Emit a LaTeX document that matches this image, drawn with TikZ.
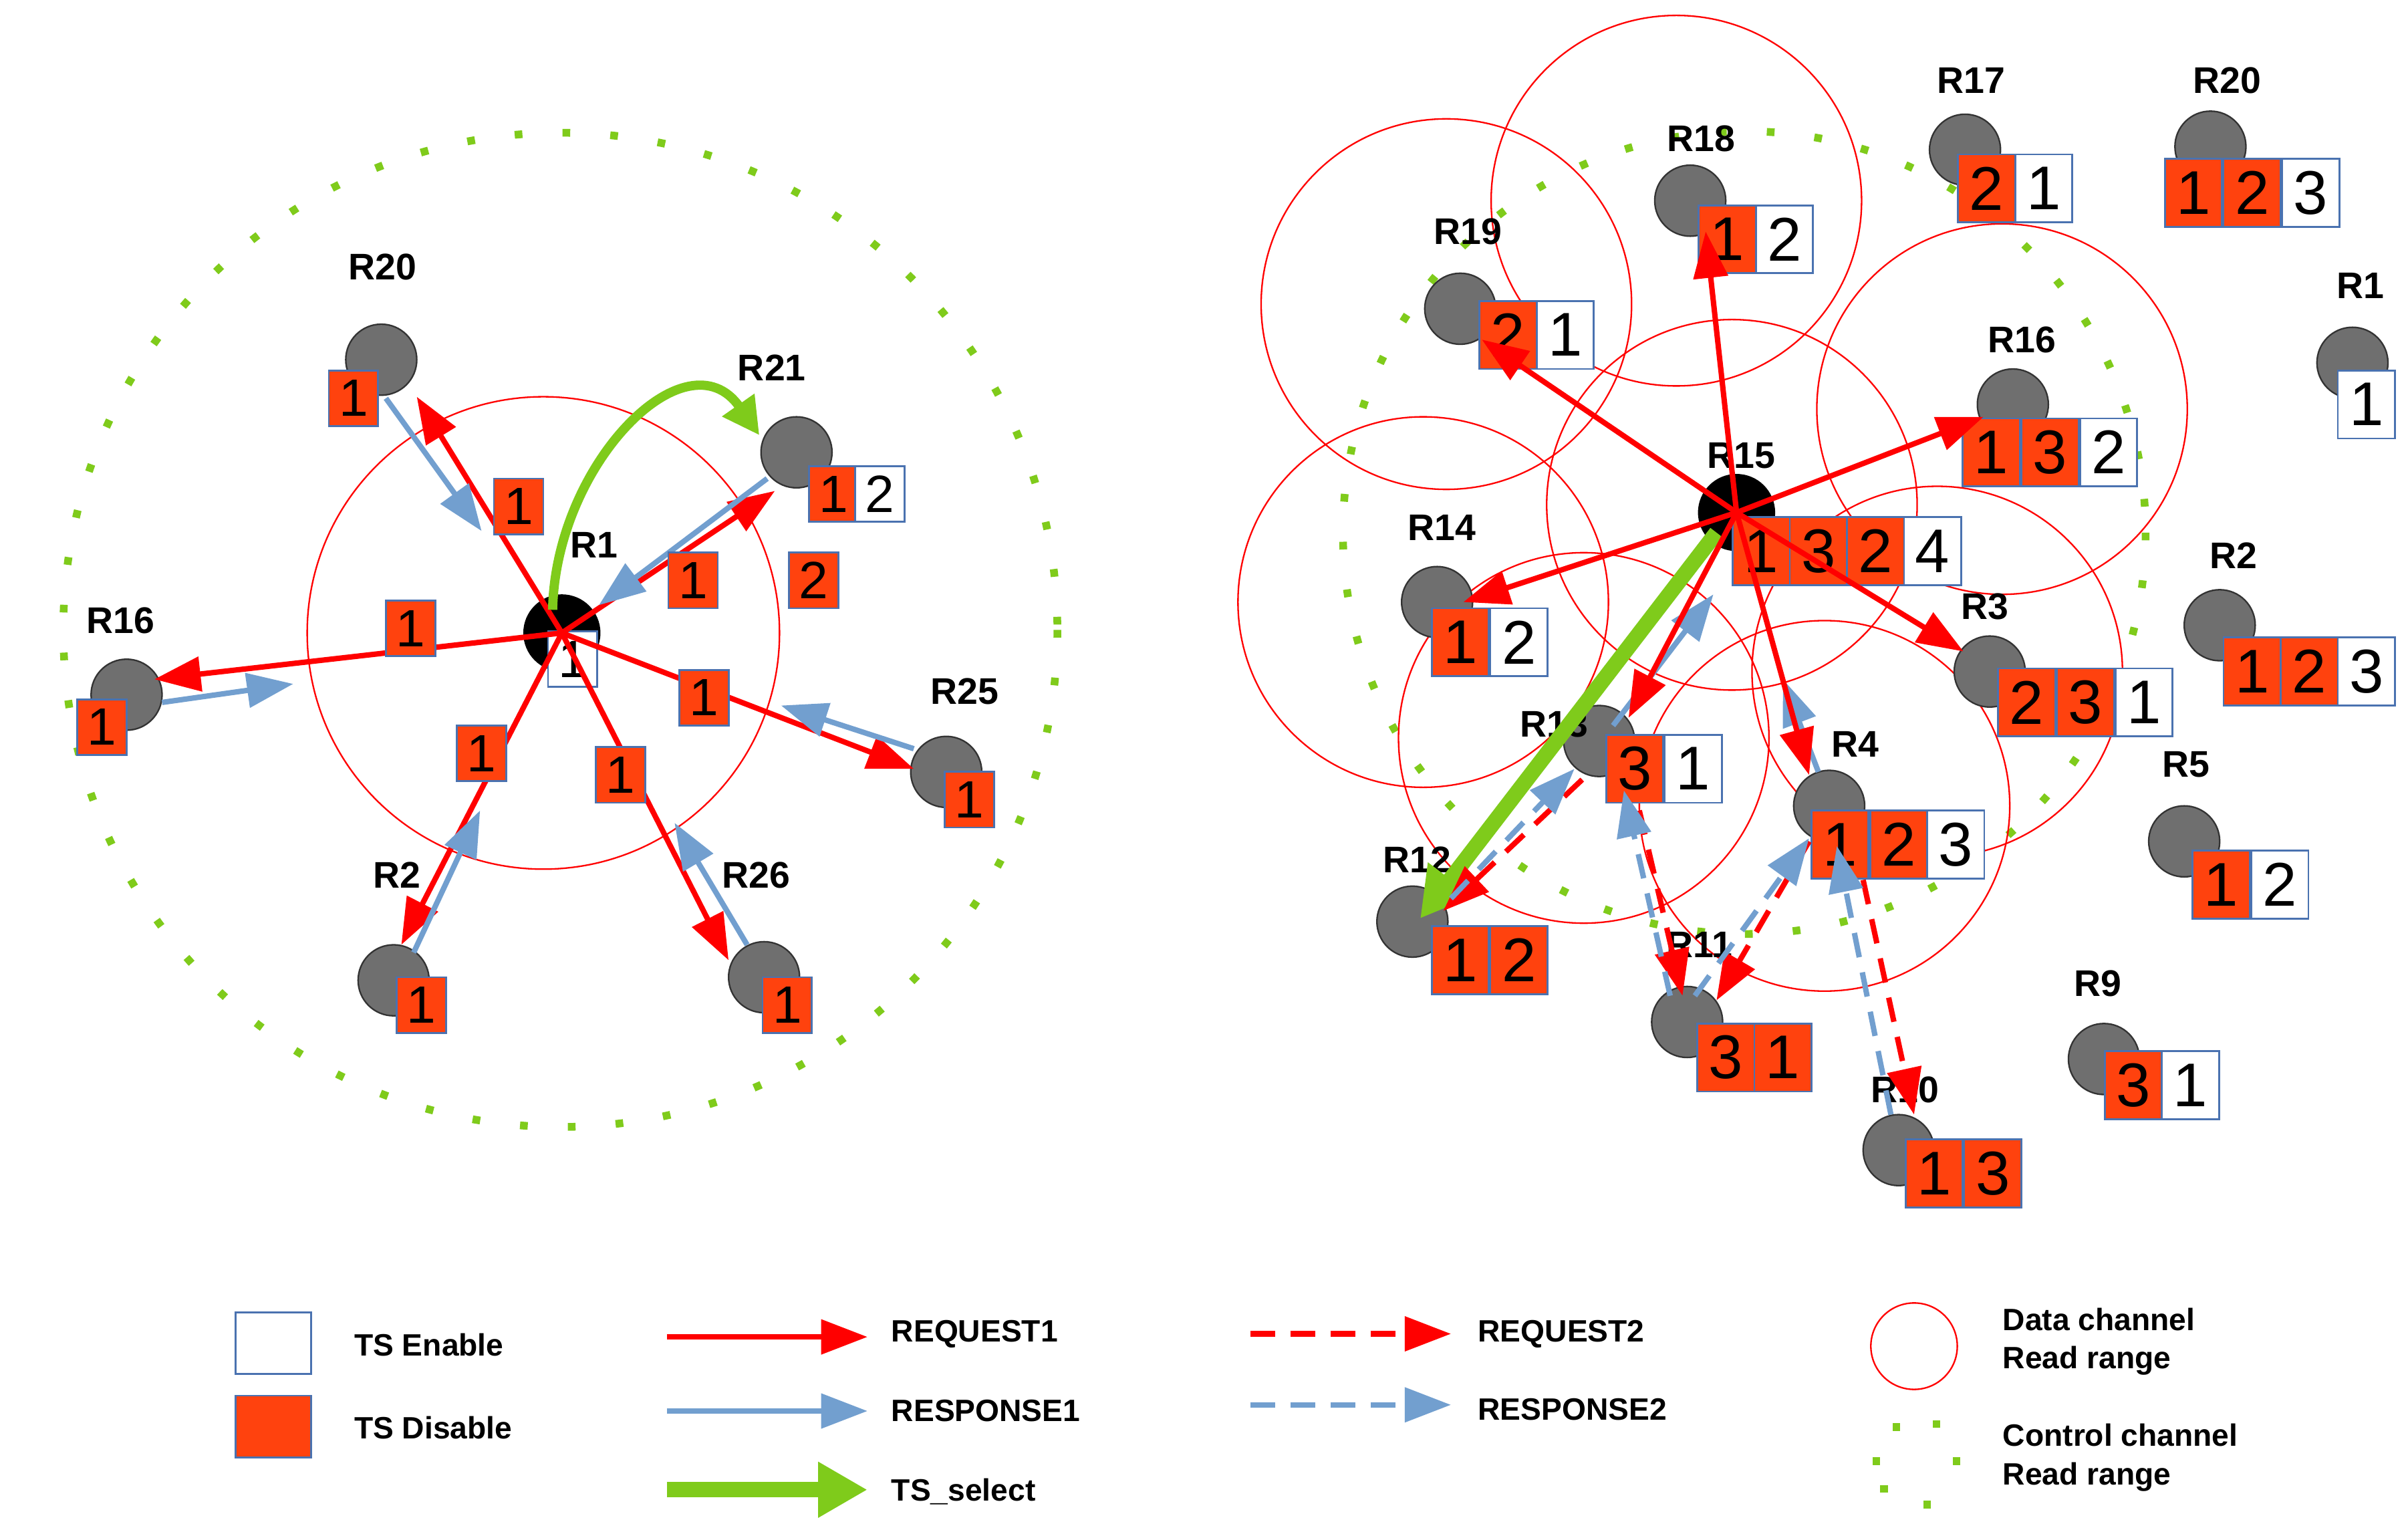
\documentclass[tikz,border=0pt]{standalone}
\usepackage{fontspec}
\setmainfont{Liberation Sans}
\usetikzlibrary{arrows.meta}
\definecolor{rd}{HTML}{FF0000}
\definecolor{bl}{HTML}{729FCF}
\definecolor{gr}{HTML}{7FCB1B}
\definecolor{og}{HTML}{FF420E}
\definecolor{bd}{HTML}{4A72B0}
\definecolor{gn}{HTML}{6F6F6F}
\tikzset{
 lab/.style={font=\bfseries\fontsize{24}{24}\selectfont},
 lg/.style={font=\bfseries\fontsize{20}{22}\selectfont,anchor=west,align=left},
 celo/.style={draw=bd,fill=og,line width=1.2pt,minimum width=37pt,minimum height=44pt,inner sep=0pt,font=\fontsize{40}{40}\selectfont},
 celw/.style={celo,fill=white},
 scelo/.style={celo,minimum width=32pt,minimum height=36pt,font=\fontsize{34}{34}\selectfont},
 scelw/.style={scelo,fill=white},
 rnode/.style={circle,fill=gn,draw=black!80,line width=1pt,minimum size=46pt,inner sep=0pt},
 bnode/.style={circle,fill=black,minimum size=50pt,inner sep=0pt},
 tip/.style={-{Triangle[length=30pt,width=22pt]}},
 req/.style={rd,line width=3.5pt,tip},
 rsp/.style={bl,line width=3.5pt,tip},
 req2/.style={req,dash pattern=on 16pt off 10pt},
 rsp2/.style={rsp,dash pattern=on 16pt off 10pt},
 sel/.style={gr,line width=10pt,-{Triangle[length=32pt,width=34pt]}},
 dcirc/.style={rd,line width=1pt},
 ccirc/.style={gr,line width=5pt,dash pattern=on 5pt off 26pt},
}
\begin{document}
\begin{tikzpicture}[x=1pt,y=-1pt]
\useasboundingbox (0,0) rectangle (1560,992);
% ---------- LEFT ----------
\draw[ccirc] (363,408) circle (322);
\draw[dcirc] (352,410) circle (153);
\node[rnode] (L20) at (247,233) {};
\node[rnode] (L21) at (516,293) {};
\node[rnode] (L16) at (82,450) {};
\node[rnode] (L25) at (613,500) {};
\node[rnode] (L2) at (255,635) {};
\node[rnode] (L26) at (495,633) {};
\node[bnode] (L1) at (364,410) {};
\node[lab] at (248,173) {R20};
\node[lab] at (500,238) {R21};
\node[lab] at (385,353) {R1};
\node[lab] at (78,402) {R16};
\node[lab] at (625,448) {R25};
\node[lab] at (257,567) {R2};
\node[lab] at (490,567) {R26};
\node[scelw] (L1b) at (371,427) {1};
\node[scelo] (L20b) at (229,258) {1};
\node[scelo] (L21a) at (540,320) {1};
\node[scelw] (L21c) at (570,320) {2};
\node[scelo] (L16b) at (66,471) {1};
\node[scelo] (L25b) at (628,518) {1};
\node[scelo] (L2b) at (273,651) {1};
\node[scelo] (L26b) at (510,651) {1};
% arrows
\coordinate (c1) at (270,257); \coordinate (c2) at (502,318);
\coordinate (c3) at (100,440); \coordinate (c4) at (592,498);
\coordinate (c5) at (260,612); \coordinate (c6) at (472,622);
\foreach \t in {c1,c2,c3,c4,c5,c6} \draw[req] (L1.center) -- (\t);
\draw[rsp] (250,258) -- (312,344);
\draw[rsp] (497,310) -- (388,392);
\draw[rsp] (105,455) -- (190,443);
\draw[rsp] (592,485) -- (506,457);
\draw[rsp] (268,617) -- (311,525);
\draw[rsp] (484,612) -- (437,533);
\draw[sel,line width=6pt,-{Triangle[length=24pt,width=24pt]}] (358,395) .. controls (360,300) and (445,215) .. (492,282);
\node[scelo] at (336,328) {1};
\node[scelo] at (266,407) {1};
\node[scelo] at (449,376) {1};
\node[scelo] at (456,452) {1};
\node[scelo] at (312,488) {1};
\node[scelo] at (402,502) {1};
\node[scelo] at (527,376) {2};
% ---------- RIGHT ----------
\draw[ccirc] (1130,345) circle (260);
\foreach \p in {(937,197),(1086,130),(1297,265),(922,390),(1122,327),(1026,478),(1255,435),(1182,522)}
  \draw[dcirc] \p circle (120);
\node[rnode] (R18) at (1095,130) {};
\node[rnode] (R19) at (946,200) {};
\node[rnode] (R17) at (1273,97) {};
\node[rnode] (R20) at (1432,95) {};
\node[rnode] (R1) at (1524,235) {};
\node[rnode] (R16) at (1304,262) {};
\node[rnode] (R14) at (931,390) {};
\node[rnode] (R2) at (1438,405) {};
\node[rnode] (R3) at (1289,435) {};
\node[rnode] (R13) at (1036,480) {};
\node[rnode] (R4) at (1185,522) {};
\node[rnode] (R5) at (1415,545) {};
\node[rnode] (R12) at (915,597) {};
\node[rnode] (R11) at (1093,662) {};
\node[rnode] (R9) at (1363,686) {};
\node[rnode] (R10) at (1230,745) {};
\node[bnode] (R15) at (1125,332) {};
\foreach \n/\x/\y in {R15/1128/295,R18/1102/90,R19/951/150,R17/1277/52,R20/1443/52,R1/1529/185,R16/1310/220,R14/934/342,R2/1447/360,R3/1286/393,R13/1007/469,R4/1202/482,R5/1416/495,R12/918/557,R11/1101/612,R9/1359/637,R10/1234/706}
  \node[lab] at (\x,\y) {\n};
% boxes
\node[celo] (b15a) at (1141,357) {1};\node[celo] at (1178,357) {3};\node[celo] at (1215,357) {2};\node[celw] at (1252,357) {4};
\node[celo] (b18) at (1119,155) {1};\node[celw] at (1156,155) {2};
\node[celo] (b19) at (977,217) {2};\node[celw] at (1014,217) {1};
\node[celo] at (1287,122) {2};\node[celw] at (1324,122) {1};
\node[celo] at (1421,125) {1};\node[celo] at (1459,125) {2};\node[celw] at (1497,125) {3};
\node[celw] at (1533,262) {1};
\node[celo] (b16) at (1290,293) {1};\node[celo] at (1328,293) {3};\node[celw] at (1366,293) {2};
\node[celo] (b14) at (946,416) {1};\node[celw] at (984,416) {2};
\node[celo] at (1459,435) {1};\node[celo] at (1496,435) {2};\node[celw] at (1533,435) {3};
\node[celo] at (1313,455) {2};\node[celo] at (1351,455) {3};\node[celw] at (1389,455) {1};
\node[celo] (b13) at (1059,498) {3};\node[celw] at (1097,498) {1};
\node[celo] (b4) at (1192,547) {1};\node[celo] at (1230,547) {2};\node[celw] at (1267,547) {3};
\node[celo] at (1439,573) {1};\node[celw] at (1477,573) {2};
\node[celo] at (946,622) {1};\node[celo] at (984,622) {2};
\node[celo] at (1118,685) {3};\node[celo] at (1155,685) {1};
\node[celo] at (1382,703) {3};\node[celw] at (1419,703) {1};
\node[celo] at (1253,760) {1};\node[celo] at (1291,760) {3};
% arrows
\draw[sel] (1112,345) -- (920,595);
\draw[rsp] (1045,470) -- (1110,385);
\draw[rsp] (1178,500) -- (1155,440);
\coordinate (t19) at (960,220); \coordinate (t18) at (1105,150);
\coordinate (t16) at (1285,270); \coordinate (t14) at (948,390);
\coordinate (t3) at (1272,422); \coordinate (t13) at (1055,465);
\coordinate (t4) at (1172,502);
\foreach \t in {t19,t18,t16,t14,t3,t13,t4} \draw[req] (R15.center) -- (\t);
\draw[req2] (1025,505) -- (935,590);
\draw[rsp2] (940,582) -- (1020,498);
\draw[req2] (1062,525) -- (1090,645);
\draw[rsp2] (1082,645) -- (1052,512);
\draw[req2] (1172,545) -- (1112,648);
\draw[rsp2] (1098,645) -- (1172,543);
\draw[req2] (1207,570) -- (1240,722);
\draw[rsp2] (1225,722) -- (1190,548);
% ---------- LEGEND ----------
\node[draw=bd,line width=1.2pt,minimum width=49pt,minimum height=40pt] (lgE) at (177,870) {};
\node[draw=bd,fill=og,line width=1.2pt,minimum width=49pt,minimum height=40pt] (lgD) at (177,924) {};
\node[lg] at (226,871) {TS Enable};
\node[lg] at (226,925) {TS Disable};
\coordinate (a1) at (432,866); \coordinate (a1e) at (562,866);
\coordinate (a2) at (432,914); \coordinate (a2e) at (562,914);
\coordinate (a3) at (432,965); \coordinate (a3e) at (562,965);
\coordinate (a4) at (810,864); \coordinate (a4e) at (940,864);
\coordinate (a5) at (810,910); \coordinate (a5e) at (940,910);
\draw[req] (a1) -- (a1e); \node[lg] at (574,864) {REQUEST1};
\draw[rsp] (a2) -- (a2e); \node[lg] at (574,914) {RESPONSE1};
\draw[sel] (a3) -- (a3e); \node[lg] at (574,966) {TS\_select};
\draw[req2] (a4) -- (a4e); \node[lg] at (954,864) {REQUEST2};
\draw[rsp2] (a5) -- (a5e); \node[lg] at (954,913) {RESPONSE2};
\draw[dcirc] (1240,872) circle (28);
\node[lg,font=\bfseries\fontsize{20}{25}\selectfont] at (1294,869) {Data channel\\Read range};
\foreach \p in {(1226,922),(1252,920),(1213,944),(1265,944),(1218,962),(1246,972)}
  \fill[gr] \p rectangle ++(5,5);
\node[lg,font=\bfseries\fontsize{20}{25}\selectfont] at (1294,944) {Control channel\\Read range};
\end{tikzpicture}
\end{document}
